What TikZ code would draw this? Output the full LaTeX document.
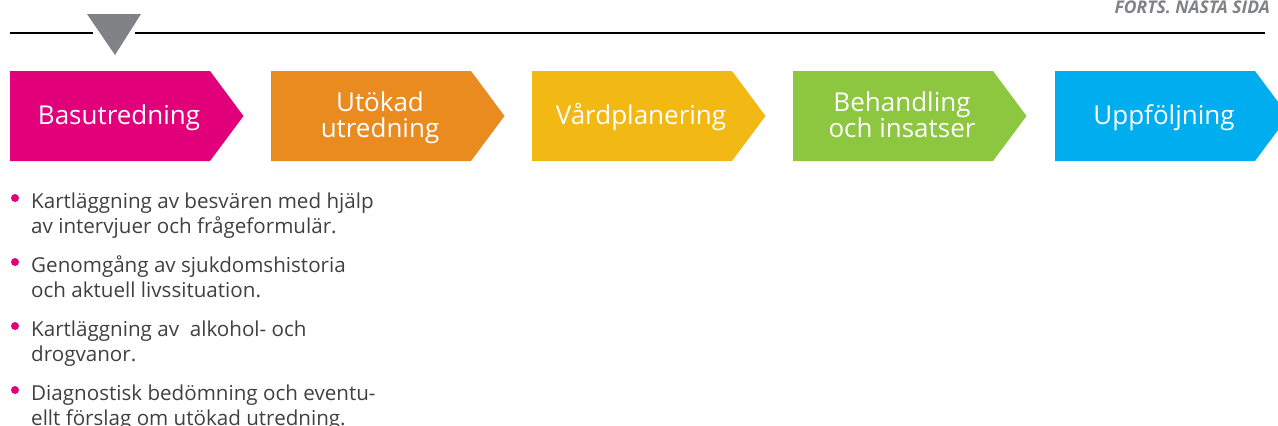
\documentclass[tikz,border=0pt]{standalone}
\usepackage{fontspec}
\setmainfont{Open Sans}
\definecolor{cMag}{HTML}{E2007A}
\definecolor{cOra}{HTML}{EA8B1F}
\definecolor{cYel}{HTML}{F2B814}
\definecolor{cGre}{HTML}{8DC63F}
\definecolor{cBlu}{HTML}{00AEEF}
\definecolor{cGry}{HTML}{808285}
\definecolor{cTxt}{HTML}{404040}
\begin{document}
\begin{tikzpicture}[x=1pt,y=-1pt,
  lbl/.style={text=white,font=\fontsize{26}{26}\selectfont,inner sep=0pt,align=center,anchor=base},
  item/.style={text=cTxt,font=\fontsize{20.6}{25.5}\selectfont,inner sep=0pt,align=left,anchor=base west},
  dot/.style={circle,fill=cMag,inner sep=0pt,minimum size=8pt},
  rule/.style={line width=1.1pt,black}]
\useasboundingbox (0,0) rectangle (1278,426);
% top rule with marker
\coordinate (r0) at (10,33);
\coordinate (r1) at (93,33);
\coordinate (r2) at (135,33);
\coordinate (r3) at (1265,33);
\draw[rule] (r0) -- (r1);
\draw[rule] (r2) -- (r3);
\fill[cGry] (87,14) -- (141,14) -- (115,55) -- cycle;
\node[anchor=base east,text=cGry,inner sep=0pt,font=\fontsize{17.5}{17.5}\bfseries\itshape\selectfont] (forts) at (1270,13) {FORTS. NÄSTA SIDA};
% process chevrons
\foreach \x/\c in {10/cMag,271/cOra,532/cYel,793/cGre,1055/cBlu}{
  \fill[\c] (\x,71) -- ++(200,0) -- ++(33.5,45) -- ++(-33.5,45) -- ++(-200,0) -- cycle;
}
\node[lbl] (b1) at (119,124.5) {Basutredning};
\node[lbl] (b2) at (380,137) {Utökad\\utredning};
\node[lbl] (b3) at (641,124.5) {Vårdplanering};
\node[lbl] (b4) at (902,137) {Behandling\\och insatser};
\node[lbl] (b5) at (1164,124.5) {Uppföljning};
% bullet list
\node[item] (i1) at (31,233.5) {Kartläggning av besvären med hjälp\\av intervjuer och frågeformulär.};
\node[item] (i2) at (31,297.5) {Genomgång av sjukdomshistoria\\och aktuell livssituation.};
\node[item] (i3) at (31,361.5) {Kartläggning av \ alkohol- och\\drogvanor.};
\node[item] (i4) at (31,425.5) {Diagnostisk bedömning och eventu-\\ellt förslag om utökad utredning.};
\foreach \y/\n in {198/d1,262/d2,326/d3,390/d4}{
  \node[dot] (\n) at (15,\y) {};
}
\end{tikzpicture}
\end{document}
